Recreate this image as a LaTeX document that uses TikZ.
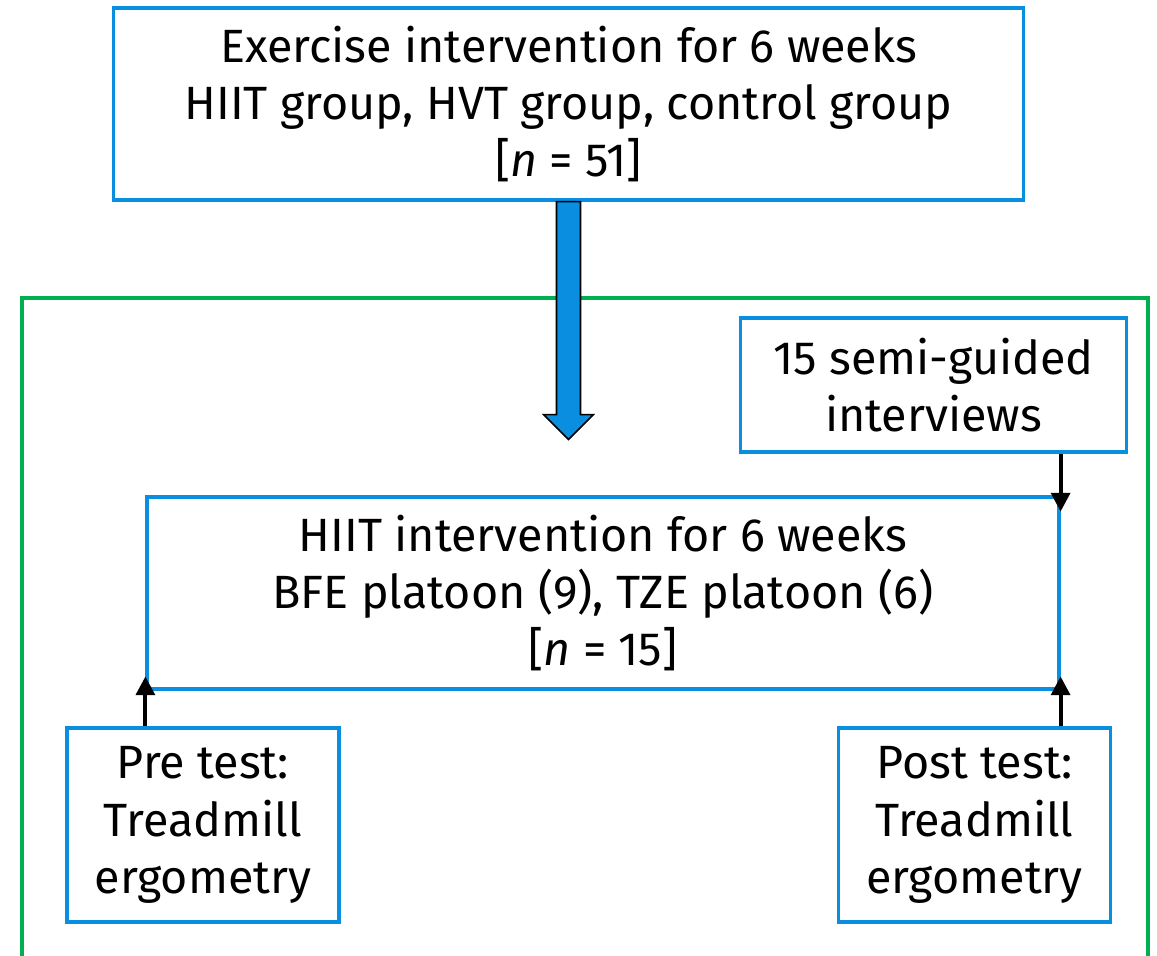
\documentclass[tikz,border=0pt]{standalone}
\usepackage{fontspec}
\setmainfont{Fira Sans}
\usepackage{tikz}
\usetikzlibrary{positioning,calc,arrows.meta}
\definecolor{boxblue}{HTML}{0A8FE0}
\definecolor{framegreen}{HTML}{00B050}

\begin{document}
\begin{tikzpicture}[
x=0.75pt, y=-0.75pt,
font=\fontsize{35}{43}\selectfont,
stagebox/.style={draw=boxblue, line width=2.4pt, align=center, inner sep=0pt},
smallbox/.style={stagebox, minimum width=204pt, minimum height=145.5pt},
thinarrow/.style={-{Triangle[length=14pt,width=14pt]}, line width=3pt}
]
    % fix the page size
    \useasboundingbox (0,0) rectangle (1157,956);

    % green frame, open at the bottom
    \draw[framegreen, line width=3pt] (22,956) |- (1148,298) -- (1148,956);

    % boxes
    \node[stagebox, minimum width=683pt, minimum height=144pt] (exercise) at (568.5,104)
        {Exercise intervention for 6 weeks\\HIIT group, HVT group, control group\\{[}{\itshape n} = 51{]}};
    \node[stagebox, minimum width=290pt, minimum height=100.5pt] (interviews) at (933.5,385)
        {15 semi-guided\\interviews};
    \node[stagebox, minimum width=684pt, minimum height=144pt] (hiit) at (603,593)
        {HIIT intervention for 6 weeks\\BFE platoon (9), TZE platoon (6)\\{[}{\itshape n} = 15{]}};
    \node[smallbox] (pretest) at (203,825) {Pre test:\\Treadmill\\ergometry};
    \node[smallbox] (posttest) at (974.5,825) {Post test:\\Treadmill\\ergometry};

    % big arrow down
    \filldraw[fill=boxblue, draw=black, line width=1.2pt]
        (exercise.south) ++(-12,0) -- ++(0,213) -- ++(-13,0) -- ($(exercise.south)+(0,238)$)
        -- ++(25,-25) -- ++(-13,0) -- ++(0,-213) -- cycle;

    % small arrows
    \draw[thinarrow] (interviews.south -| hiit.east) -- ++(0,58);
    \draw[thinarrow] (pretest.north -| hiit.west) -- ++(0,-50);
    \draw[thinarrow] (posttest.north -| hiit.east) -- ++(0,-50);

\end{tikzpicture}
\end{document}
